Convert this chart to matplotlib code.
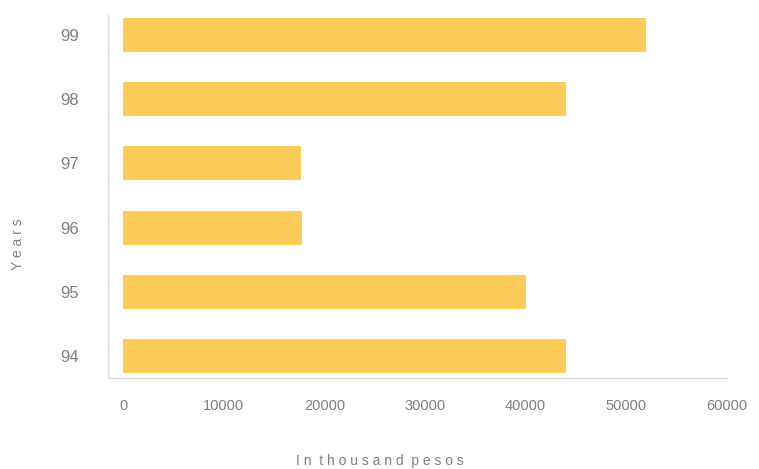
import matplotlib
matplotlib.use("Agg")
from matplotlib import pyplot as plt

# values (thousand pesos)
years = ["94", "95", "96", "97", "98", "99"]
values = [44000, 40000, 17800, 17700, 44000, 52000]
x_ticks = [0, 10000, 20000, 30000, 40000, 50000, 60000]

plt.rcParams['font.family'] = ['Liberation Sans', 'DejaVu Sans']

fig = plt.figure(figsize=(7.59, 4.69), dpi=100)
ax = fig.add_axes([0.1423, 0.194, 0.8155, 0.774])

pos = range(len(years))
ax.barh(pos, values, height=0.53, color='#fdcb5a')

ax.set_yticks(list(pos))
ax.set_yticklabels(years)
ax.set_xticks(x_ticks)
ax.set_xticklabels([str(v) for v in x_ticks])
ax.set_xlim(-1500, 60000)
ax.set_ylim(-0.34, 5.31)

ax.tick_params(axis='both', length=0, labelcolor='#808080')
ax.tick_params(axis='y', pad=21, labelsize=12)
ax.tick_params(axis='x', pad=15, labelsize=10.5)

for side in ['top', 'right']:
    ax.spines[side].set_visible(False)
for side in ['left', 'bottom']:
    ax.spines[side].set_color('#dcdcdc')
    ax.spines[side].set_linewidth(1)

fig.text(0.024, 0.48, 'Y e a r s', rotation=90, ha='center', va='center',
         fontsize=10, color='#808080')
fig.text(0.50, 0.018, 'I n  t h o u s a n d  p e s o s', ha='center', va='center',
         fontsize=10, color='#808080')

fig.savefig('out.png', dpi=100)
